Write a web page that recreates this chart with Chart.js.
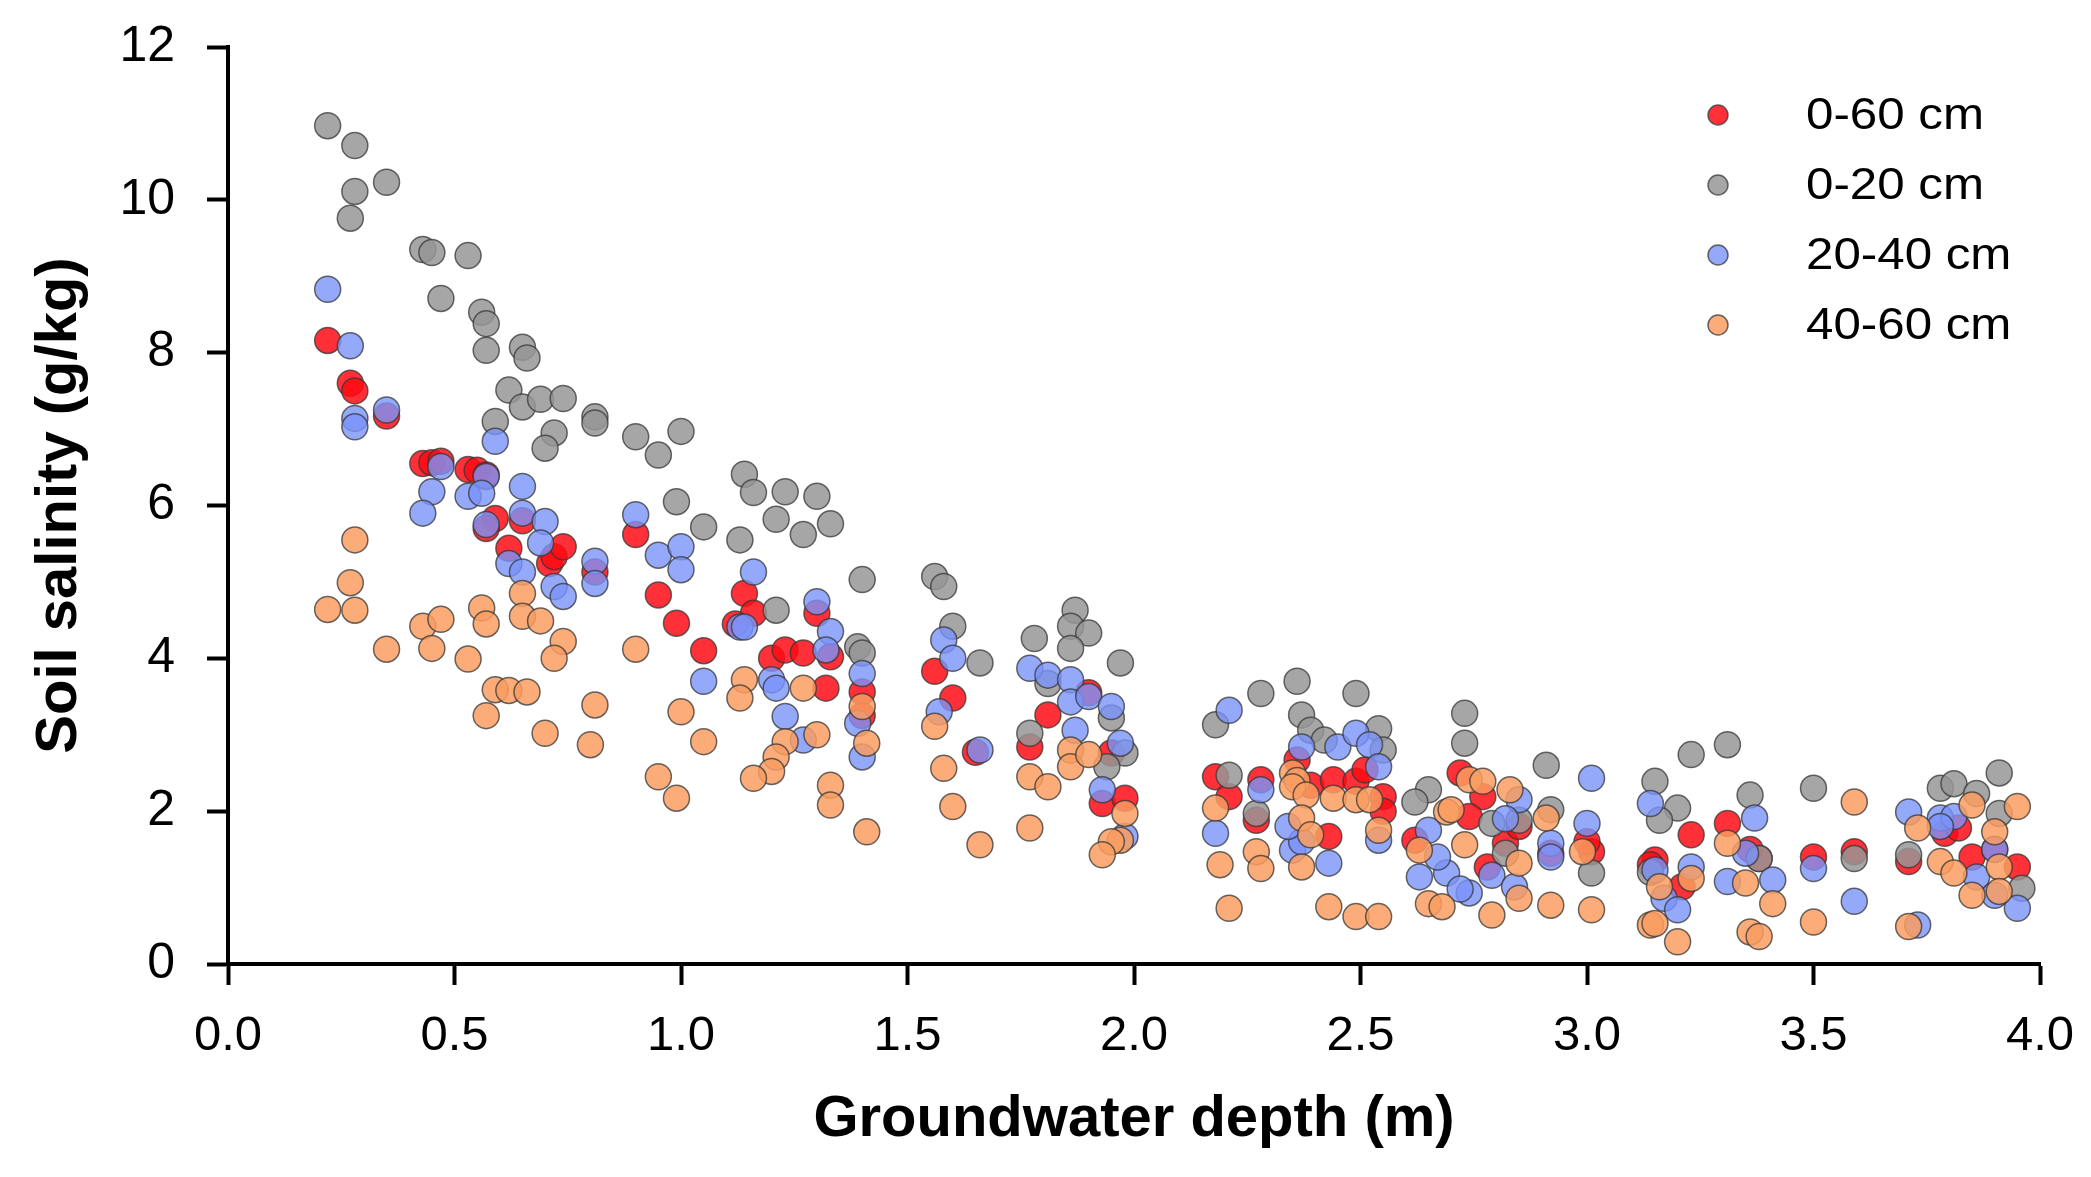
<!DOCTYPE html>
<html>
<head>
<meta charset="utf-8">
<script src="https://cdn.jsdelivr.net/npm/chart.js@4.4.1/dist/chart.umd.min.js"></script>
<style>
    html, body { margin: 0; padding: 0; background: #fff; }
    canvas { display: block; }
</style>
</head>
<body>
<canvas id="salinityChart" width="2091" height="1177"></canvas>
<script>
// [groundwater depth (m), soil salinity (g/kg)]
const layer0to60 = [
    [0.22, 8.16], [0.27, 7.60], [0.28, 7.50], [0.35, 7.17], [0.43, 6.55], [0.45, 6.56], [0.47, 6.58],
    [0.53, 6.47], [0.55, 6.46], [0.57, 6.40], [0.59, 5.83], [0.57, 5.70], [0.65, 5.80], [0.62, 5.44],
    [0.71, 5.24], [0.72, 5.33], [0.74, 5.46], [0.81, 5.13], [0.90, 5.62], [0.95, 4.83], [0.99, 4.46],
    [1.05, 4.10], [1.14, 4.85], [1.16, 4.59], [1.12, 4.45], [1.30, 4.59], [1.20, 4.00], [1.23, 4.11],
    [1.27, 4.07], [1.33, 4.02], [1.32, 3.61], [1.40, 3.56], [1.40, 3.25], [1.56, 3.83], [1.60, 3.48],
    [1.65, 2.77], [1.81, 3.26], [1.77, 2.84], [1.90, 3.55], [1.93, 2.10], [1.98, 2.17], [1.95, 2.76],
    [2.18, 2.45], [2.21, 2.19], [2.28, 2.41], [2.27, 1.88], [2.36, 2.67], [2.39, 2.34], [2.44, 2.41],
    [2.49, 2.39], [2.51, 2.54], [2.55, 2.19], [2.55, 2.00], [2.43, 1.67], [2.72, 2.50], [2.62, 1.62],
    [2.77, 2.19], [2.74, 1.93], [2.82, 1.58], [2.85, 1.80], [2.78, 1.27], [2.92, 1.45], [3.01, 1.47],
    [3.00, 1.60], [3.23, 1.69], [3.15, 1.36], [3.14, 1.30], [3.21, 1.01], [3.31, 1.84], [3.36, 1.50],
    [3.38, 1.38], [3.50, 1.40], [3.59, 1.47], [3.71, 1.34], [3.79, 1.71], [3.82, 1.78], [3.85, 1.40],
    [3.95, 1.27], [3.90, 1.50]
];

const layer0to20 = [
    [0.22, 10.97], [0.28, 10.71], [0.35, 10.23], [0.28, 10.11], [0.27, 9.76], [0.43, 9.35], [0.45, 9.31],
    [0.53, 9.27], [0.47, 8.71], [0.56, 8.53], [0.57, 8.38], [0.57, 8.03], [0.65, 8.07], [0.66, 7.93],
    [0.62, 7.51], [0.65, 7.29], [0.69, 7.39], [0.74, 7.40], [0.59, 7.10], [0.72, 6.95], [0.70, 6.75],
    [0.81, 7.16], [0.81, 7.08], [0.90, 6.90], [0.95, 6.66], [1.00, 6.97], [0.99, 6.05], [1.05, 5.72],
    [1.13, 5.55], [1.14, 6.41], [1.16, 6.17], [1.23, 6.18], [1.30, 6.12], [1.21, 5.82], [1.27, 5.62],
    [1.33, 5.76], [1.40, 5.03], [1.21, 4.63], [1.39, 4.15], [1.40, 4.07], [1.56, 5.07], [1.58, 4.94],
    [1.60, 4.42], [1.66, 3.94], [1.78, 4.26], [1.87, 4.63], [1.86, 4.42], [1.90, 4.33], [1.86, 4.13],
    [1.97, 3.94], [1.81, 3.67], [1.95, 3.22], [1.98, 2.76], [1.94, 2.58], [1.77, 3.02], [2.18, 3.13],
    [2.28, 3.54], [2.36, 3.70], [2.49, 3.54], [2.37, 3.26], [2.39, 3.06], [2.42, 2.93], [2.54, 3.08],
    [2.55, 2.80], [2.21, 2.47], [2.27, 1.97], [2.65, 2.28], [2.62, 2.12], [2.73, 3.28], [2.73, 2.89],
    [2.91, 2.60], [2.92, 2.02], [3.01, 1.19], [2.79, 1.84], [2.85, 1.88], [2.82, 1.45], [3.15, 2.39],
    [3.20, 2.04], [3.16, 1.88], [3.23, 2.74], [3.31, 2.87], [3.36, 2.21], [3.14, 1.20], [3.38, 1.38],
    [3.50, 2.30], [3.59, 1.38], [3.71, 1.43], [3.78, 2.30], [3.81, 2.36], [3.86, 2.23], [3.91, 2.50],
    [3.91, 1.97], [3.96, 0.99]
];

const layer20to40 = [
    [0.22, 8.83], [0.27, 8.09], [0.35, 7.25], [0.28, 7.14], [0.28, 7.03], [0.59, 6.84], [0.47, 6.51],
    [0.57, 6.38], [0.45, 6.18], [0.65, 6.25], [0.43, 5.90], [0.53, 6.12], [0.56, 6.16], [0.65, 5.90],
    [0.57, 5.75], [0.70, 5.79], [0.62, 5.24], [0.65, 5.13], [0.69, 5.51], [0.72, 4.94], [0.74, 4.81],
    [0.90, 5.88], [0.95, 5.35], [1.00, 5.46], [1.00, 5.16], [0.81, 5.27], [0.81, 4.98], [1.16, 5.13],
    [1.30, 4.74], [1.05, 3.70], [1.13, 4.41], [1.14, 4.41], [1.33, 4.35], [1.32, 4.11], [1.40, 3.80],
    [1.39, 3.15], [1.40, 2.71], [1.20, 3.72], [1.21, 3.61], [1.23, 3.24], [1.27, 2.93], [1.58, 4.24],
    [1.60, 4.00], [1.57, 3.30], [1.66, 2.80], [1.77, 3.87], [1.81, 3.78], [1.86, 3.72], [1.86, 3.43],
    [1.90, 3.50], [1.95, 3.37], [1.87, 3.06], [1.97, 2.89], [1.93, 2.28], [1.98, 1.67], [2.21, 3.32],
    [2.28, 2.28], [2.18, 1.71], [2.37, 2.84], [2.45, 2.84], [2.49, 3.02], [2.52, 2.87], [2.54, 2.58],
    [2.35, 1.49], [2.37, 1.60], [2.43, 1.32], [2.34, 1.80], [2.54, 1.62], [2.65, 1.75], [2.63, 1.14],
    [2.69, 1.19], [2.67, 1.40], [3.01, 2.43], [3.00, 1.84], [2.92, 1.58], [2.92, 1.40], [2.85, 2.15],
    [2.82, 1.90], [2.79, 1.16], [2.74, 0.93], [2.72, 0.98], [2.84, 1.01], [3.14, 2.10], [3.15, 1.23],
    [3.17, 0.86], [3.20, 0.71], [3.23, 1.27], [3.31, 1.08], [3.35, 1.45], [3.37, 1.91], [3.41, 1.10],
    [3.50, 1.25], [3.59, 0.82], [3.71, 1.99], [3.73, 0.51], [3.78, 1.91], [3.81, 1.93], [3.78, 1.80],
    [3.86, 1.14], [3.90, 1.50], [3.90, 0.90], [3.95, 0.73]
];

const layer40to60 = [
    [0.28, 5.55], [0.27, 4.99], [0.22, 4.64], [0.28, 4.63], [0.35, 4.12], [0.43, 4.42], [0.47, 4.51],
    [0.45, 4.13], [0.56, 4.66], [0.57, 4.45], [0.53, 3.99], [0.65, 4.85], [0.65, 4.55], [0.69, 4.49],
    [0.59, 3.59], [0.62, 3.58], [0.66, 3.56], [0.57, 3.25], [0.70, 3.02], [0.74, 4.22], [0.72, 4.00],
    [0.90, 4.12], [0.81, 3.39], [0.80, 2.87], [1.00, 3.30], [1.05, 2.91], [0.95, 2.45], [0.99, 2.17],
    [1.14, 3.72], [1.13, 3.48], [1.27, 3.61], [1.30, 3.00], [1.23, 2.91], [1.21, 2.71], [1.20, 2.52],
    [1.16, 2.43], [1.33, 2.34], [1.33, 2.08], [1.40, 3.37], [1.41, 2.89], [1.41, 1.73], [1.56, 3.11],
    [1.58, 2.56], [1.60, 2.06], [1.66, 1.56], [1.77, 1.78], [1.77, 2.45], [1.81, 2.32], [1.86, 2.80],
    [1.86, 2.58], [1.90, 2.74], [1.98, 1.97], [1.97, 1.62], [1.95, 1.60], [1.93, 1.43], [2.18, 2.04],
    [2.19, 1.30], [2.21, 0.73], [2.27, 1.47], [2.28, 1.25], [2.35, 2.50], [2.36, 2.40], [2.35, 2.32],
    [2.38, 2.21], [2.37, 1.91], [2.39, 1.69], [2.37, 1.27], [2.44, 2.17], [2.49, 2.15], [2.52, 2.15],
    [2.54, 1.75], [2.43, 0.75], [2.49, 0.62], [2.54, 0.62], [2.69, 1.99], [2.63, 1.49], [2.65, 0.79],
    [2.68, 0.75], [2.74, 2.41], [2.77, 2.39], [2.83, 2.28], [2.70, 2.02], [2.73, 1.56], [2.85, 1.32],
    [2.85, 0.86], [2.79, 0.64], [2.91, 1.91], [2.92, 0.77], [2.99, 1.47], [3.01, 0.71], [3.16, 1.01],
    [3.23, 1.12], [3.14, 0.51], [3.15, 0.53], [3.20, 0.29], [3.31, 1.58], [3.35, 1.06], [3.36, 0.42],
    [3.38, 0.36], [3.41, 0.79], [3.50, 0.55], [3.59, 2.12], [3.73, 1.78], [3.71, 0.49], [3.78, 1.34],
    [3.81, 1.19], [3.85, 2.08], [3.95, 2.06], [3.90, 1.73], [3.91, 1.27], [3.85, 0.90], [3.91, 0.95]
];

const seriesLabels = ["0-60 cm", "0-20 cm", "20-40 cm", "40-60 cm"];
const seriesPoints = [layer0to60, layer0to20, layer20to40, layer40to60];
const seriesColors = ["rgba(255, 12, 20, 0.85)", "rgba(150, 150, 150, 0.85)", "rgba(122, 148, 250, 0.8)", "rgba(250, 158, 98, 0.85)"];

const fontFamily = '"Liberation Sans", Arial, Helvetica, sans-serif';

// legend drawn inside the plot, top right, one entry per row
const cornerLegend = {
    id: "cornerLegend",
    afterDatasetsDraw(chart)
    {
        const ctx = chart.ctx;

        chart.data.datasets.forEach((ds, i) =>
        {
            const y = 115 + i * 70;

            ctx.save();
            ctx.beginPath();
            ctx.arc(1718, y, 10, 0, Math.PI * 2);
            ctx.fillStyle = ds.backgroundColor;
            ctx.fill();
            ctx.lineWidth = 1.5;
            ctx.strokeStyle = ds.borderColor;
            ctx.stroke();

            // the source text is a bit wider than plain Arial
            ctx.translate(1806, y + 2);
            ctx.scale(1.12, 1);
            ctx.font = "44px " + fontFamily;
            ctx.textBaseline = "middle";
            ctx.fillStyle = "#000";
            ctx.fillText(ds.label, 0, 0);
            ctx.restore();
        });
    }
};

function buildDatasets()
{
    return seriesLabels.map((label, i) => ({
        label,
        data: seriesPoints[i].map(p => ({ x: p[0], y: p[1] })),
        backgroundColor: seriesColors[i],
        borderColor: "rgba(55, 55, 55, 0.75)",
        borderWidth: 1.5,
        pointRadius: 13,
        order: seriesLabels.length - i // later layers sit on top
    }));
}

const ctx = document.getElementById("salinityChart").getContext("2d");

const chart = new Chart(ctx, {
    type: "scatter",
    data: { datasets: buildDatasets() },
    plugins: [cornerLegend],
    options: {
        responsive: false,
        animation: false,
        devicePixelRatio: 1,
        layout: { padding: { top: 47, right: 51, bottom: 0, left: 0 } },
        plugins: {
            legend: { display: false },
            tooltip: { enabled: false }
        },
        scales: {
            x: {
                type: "linear",
                min: 0,
                max: 4,
                afterFit: scale =>
                {
                    scale.height = 213;
                    scale.paddingLeft = 0;
                    scale.paddingRight = 0;
                },
                ticks: {
                    stepSize: 0.5,
                    padding: 22,
                    color: "#000",
                    font: { size: 49, family: fontFamily },
                    maxRotation: 0,
                    callback: v => v.toFixed(1)
                },
                grid: { drawOnChartArea: false, drawTicks: true, tickLength: 21, tickWidth: 4, tickColor: "#000" },
                border: { display: true, width: 4, color: "#000" },
                title: {
                    display: true,
                    text: "Groundwater depth (m)",
                    color: "#000",
                    font: { size: 58, weight: "bold", family: fontFamily },
                    padding: { top: 0, bottom: 22 }
                }
            },
            y: {
                type: "linear",
                min: 0,
                max: 12,
                afterFit: scale =>
                {
                    scale.width = 228;
                    scale.paddingTop = 0;
                    scale.paddingBottom = 0;
                },
                ticks: {
                    stepSize: 2,
                    padding: 32,
                    color: "#000",
                    font: { size: 50, family: fontFamily }
                },
                grid: { drawOnChartArea: false, drawTicks: true, tickLength: 21, tickWidth: 4, tickColor: "#000" },
                border: { display: true, width: 4, color: "#000" },
                title: {
                    display: true,
                    text: "Soil salinity (g/kg)",
                    color: "#000",
                    font: { size: 58, weight: "bold", family: fontFamily },
                    padding: { top: 25, bottom: 0 }
                }
            }
        }
    }
});
</script>
</body>
</html>
